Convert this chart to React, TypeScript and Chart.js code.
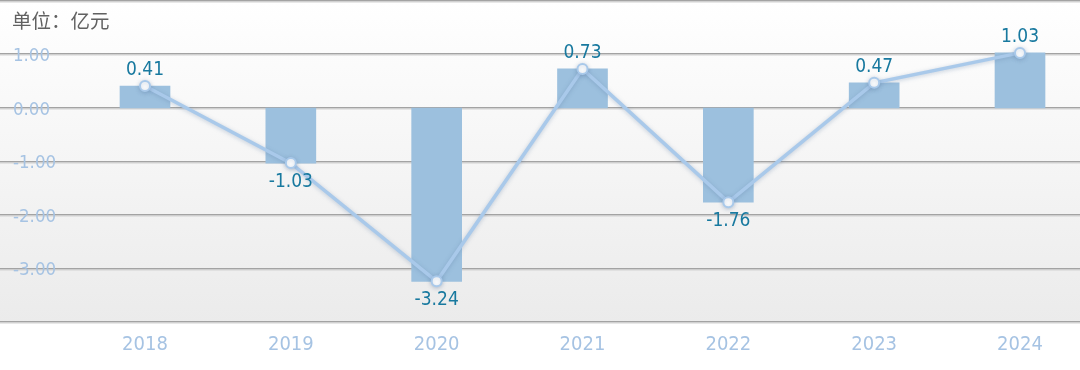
import React, { useEffect, useRef } from 'react';
import { Chart, registerables } from 'chart.js';

Chart.register(...registerables);

const years = ['2018', '2019', '2020', '2021', '2022', '2023', '2024'];
const profitValues = [0.41, -1.03, -3.24, 0.73, -1.76, 0.47, 1.03];
const yTickValues = [2, 1, 0, -1, -2, -3, -4];
const yTickLabels = ['', '1.00', '0.00', '-1.00', '-2.00', '-3.00', ''];
const unitLabel = '单位：亿元';

const condensed = '"DejaVu Sans Condensed", "DejaVu Sans", sans-serif';

const framePlugin = {
  id: 'frame',
  beforeDraw(chart: any) {
    const { ctx, chartArea } = chart;
    const w = chart.width;
    const { top, bottom } = chartArea;
    ctx.save();
    const g = ctx.createLinearGradient(0, top, 0, bottom);
    g.addColorStop(0, '#ffffff');
    g.addColorStop(1, '#ebebeb');
    ctx.fillStyle = g;
    ctx.fillRect(0, top, w, bottom - top);
    const yScale = chart.scales.y;
    yScale.ticks.forEach((t: any) => {
      const y = Math.round(yScale.getPixelForValue(t.value));
      ctx.fillStyle = '#a3a3a3';
      ctx.fillRect(0, y - 1, w, 1.5);
      ctx.fillStyle = '#d2d2d2';
      ctx.fillRect(0, y + 0.5, w, 1);
    });
    ctx.fillStyle = '#616161';
    ctx.font = '19.5px "Noto Sans CJK SC", sans-serif';
    ctx.textAlign = 'left';
    ctx.textBaseline = 'middle';
    ctx.fillText(unitLabel, 12, 21);
    ctx.restore();
  },
  beforeDatasetDraw(chart: any, args: any) {
    if (args.index === 1) {
      const ctx = chart.ctx;
      ctx.save();
      ctx.shadowColor = 'rgba(90,120,160,0.35)';
      ctx.shadowBlur = 4;
      ctx.shadowOffsetY = 1;
    }
  },
  afterDatasetDraw(chart: any, args: any) {
    if (args.index === 1) {
      chart.ctx.restore();
    }
  },
  afterDatasetsDraw(chart: any) {
    const { ctx } = chart;
    const meta = chart.getDatasetMeta(1);
    ctx.save();
    ctx.fillStyle = '#18799f';
    ctx.font = '19px ' + condensed;
    ctx.textAlign = 'center';
    ctx.textBaseline = 'middle';
    meta.data.forEach((el: any, i: number) => {
      const v = profitValues[i];
      const y = v >= 0 ? el.y - 16 : el.y + 18.5;
      ctx.fillText(v.toFixed(2), el.x, y);
    });
    ctx.restore();
  },
};

export default function App() {
  const ref = useRef<HTMLCanvasElement | null>(null);
  useEffect(() => {
    if (!ref.current) return;
    const chart = new Chart(ref.current, {
      type: 'bar',
      data: {
        labels: years,
        datasets: [
          {
            type: 'bar',
            data: profitValues,
            backgroundColor: '#9cc0de',
            barThickness: 50,
            clip: false,
            order: 1,
          } as any,
          {
            type: 'line',
            data: profitValues,
            borderColor: '#a9c9ea',
            borderWidth: 3.5,
            pointRadius: 5,
            pointBackgroundColor: '#ffffff',
            pointBorderColor: '#a9c9ea',
            pointBorderWidth: 2,
            tension: 0,
            clip: false,
            order: 0,
          } as any,
        ],
      },
      options: {
        responsive: false,
        animation: false,
        layout: { autoPadding: false, padding: { left: 13, right: 60, top: 1, bottom: 0 } },
        plugins: { legend: { display: false }, tooltip: { enabled: false } },
        scales: {
          x: {
            type: 'category',
            offset: false,
            grid: { display: false, drawTicks: false },
            border: { display: false },
            ticks: { color: '#a6c3e3', font: { family: condensed, size: 20 }, padding: 11, maxRotation: 0 },
            afterFit: (s: any) => {
              s.height = 48;
              s.paddingLeft = 0;
              s.paddingRight = 0;
            },
          },
          y: {
            type: 'linear',
            min: -4,
            max: 2,
            grid: { display: false },
            border: { display: false },
            ticks: {
              stepSize: 1,
              color: '#a6c3e3',
              font: { family: condensed, size: 18.5 },
              crossAlign: 'far',
              padding: 0,
              labelOffset: 2,
              callback: (v: any) => {
                const i = yTickValues.indexOf(Number(v));
                return i >= 0 ? yTickLabels[i] : '';
              },
            },
            afterFit: (s: any) => {
              s.width = 132;
              s.paddingTop = 0;
              s.paddingBottom = 0;
            },
          },
        },
      } as any,
      plugins: [framePlugin],
    });
    return () => chart.destroy();
  }, []);
  return (
    <div style={{ position: 'fixed', left: 0, top: 0, width: 1080, height: 370, background: '#ffffff' }}>
      <canvas ref={ref} width={1080} height={370} style={{ width: 1080, height: 370, display: 'block' }} />
    </div>
  );
}
